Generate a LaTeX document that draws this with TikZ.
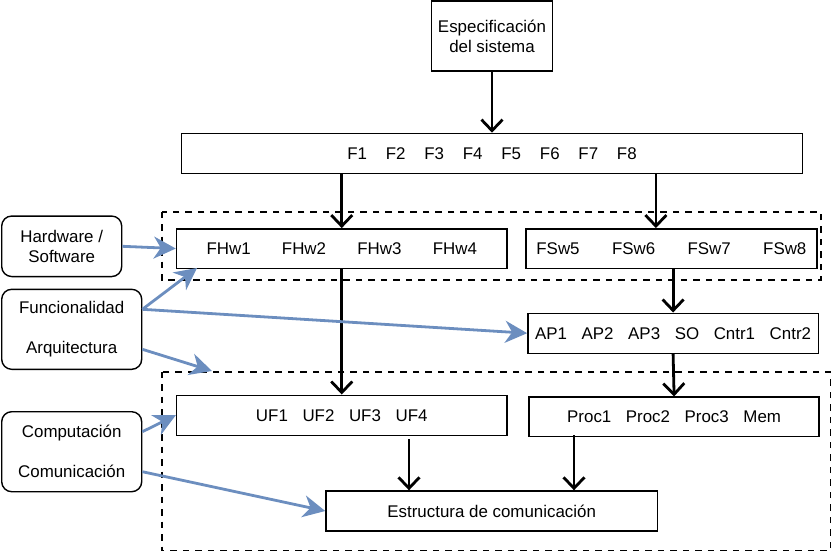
\documentclass[tikz,border=0pt]{standalone}
\usepackage{fontspec}
\setmainfont{Liberation Sans}
\usepackage{tikz}
\usetikzlibrary{
    arrows.meta,
    positioning
}
\definecolor{linkblue}{HTML}{6C8EBF}

\begin{document}
\begin{tikzpicture}[
    x=1pt, y=-1pt,
    every node/.style={font=\fontsize{16.9}{20}\selectfont},
    block/.style={rectangle, draw, line width=1.4pt, fill=white,
      align=center, inner sep=0pt},
    aspect/.style={rectangle, draw, rounded corners=10pt, line width=1.4pt,
      fill=white, align=center, inner sep=0pt},
    group/.style={draw, line width=1.7pt, dash pattern=on 6.5pt off 6pt},
    flow/.style={-{Straight Barb[length=11pt, width=21pt]}, line width=2.8pt},
    link/.style={-{Stealth[length=22pt, width=22pt, inset=7pt]}, draw=linkblue,
      fill=linkblue, line width=2.8pt}
]
\useasboundingbox (0,0) rectangle (832,552);
% grouping frames
\draw[group] (161.7,211.7) rectangle (821,280);
\draw[group] (161.7,371.7) rectangle (830.5,550.5);
% design flow
\node[block, minimum width=121pt, minimum height=70pt] (spec) at (492,36)
  {Especificación\\del sistema};
\node[block, below=61pt of spec, minimum width=621pt, minimum height=40pt] (fbox)
  {F1\hspace{18.8pt}F2\hspace{18.8pt}F3\hspace{18.8pt}F4\hspace{18.8pt}F5\hspace{18.8pt}F6\hspace{18.8pt}F7\hspace{18.8pt}F8};
\node[block, below right=54pt and -5pt of fbox.south west,
  minimum width=330.5pt, minimum height=39.5pt] (fhw)
  {FHw1\hspace{31.3pt}FHw2\hspace{31.3pt}FHw3\hspace{31.3pt}FHw4};
\node[block, right=17.5pt of fhw, minimum width=291pt, minimum height=39.5pt] (fsw)
  {FSw5\hspace{32.4pt}FSw6\hspace{32.4pt}FSw7\hspace{32.4pt}FSw8};
\node[block, below=43.5pt of fsw, xshift=1.7pt, minimum width=290.5pt,
  minimum height=40pt] (ap)
  {AP1\hspace{14.6pt}AP2\hspace{14.6pt}AP3\hspace{14.6pt}SO\hspace{14.6pt}Cntr1\hspace{14.6pt}Cntr2};
\node[block, below=42.5pt of ap, xshift=1pt, minimum width=290pt,
  minimum height=39.5pt] (proc)
  {Proc1\hspace{14.6pt}Proc2\hspace{14.6pt}Proc3\hspace{14.6pt}Mem};
\node[block, below=125.5pt of fhw, minimum width=330.5pt, minimum height=40pt] (uf)
  {UF1\hspace{14.6pt}UF2\hspace{14.6pt}UF3\hspace{14.6pt}UF4};
\node[block, minimum width=331.5pt, minimum height=40pt] (est) at (491.7,511)
  {Estructura de comunicación};
% aspects
\node[aspect, minimum width=120pt, minimum height=60.5pt] (hw) at (61.7,246.3)
  {Hardware /\\Software};
\node[aspect, minimum width=140pt, minimum height=80pt] (func) at (71.7,329.3)
  {Funcionalidad\\[20pt]Arquitectura};
\node[aspect, minimum width=140pt, minimum height=80pt] (comp) at (71.7,451.7)
  {Computación\\[20pt]Comunicación};
\coordinate (fhwin) at (197,268);
\coordinate (arqin) at (212,371);
\coordinate (ufout) at (409,439);
\coordinate (procout) at (574,435);
\draw[flow] (spec.south) -- (spec.south |- fbox.north);
\draw[flow] (fhw.north |- fbox.south) -- (fhw.north);
\draw[flow] ([xshift=-15.5pt]fsw.north |- fbox.south) -- ([xshift=-15.5pt]fsw.north);
\draw[flow] (ap.north |- fsw.south) -- (ap.north);
\draw[flow] (ap.south) -- (proc.north);
\draw[flow] (fhw.south) -- (uf.north);
\draw[flow] (ufout) -- (ufout |- est.north);
\draw[flow] (procout) -- (procout |- est.north);
\draw[link] (hw.east) -- (fhw.west);
\draw[link] ([yshift=20pt]func.east) -- (fhwin);
\draw[link] ([yshift=20pt]func.east) -- (ap.west);
\draw[link] ([yshift=-20pt]func.east) -- (arqin);
\draw[link] ([yshift=20pt]comp.east) -- (uf.west);
\draw[link] ([yshift=-20pt]comp.east) -- (est.west);
\end{tikzpicture}
\end{document}
